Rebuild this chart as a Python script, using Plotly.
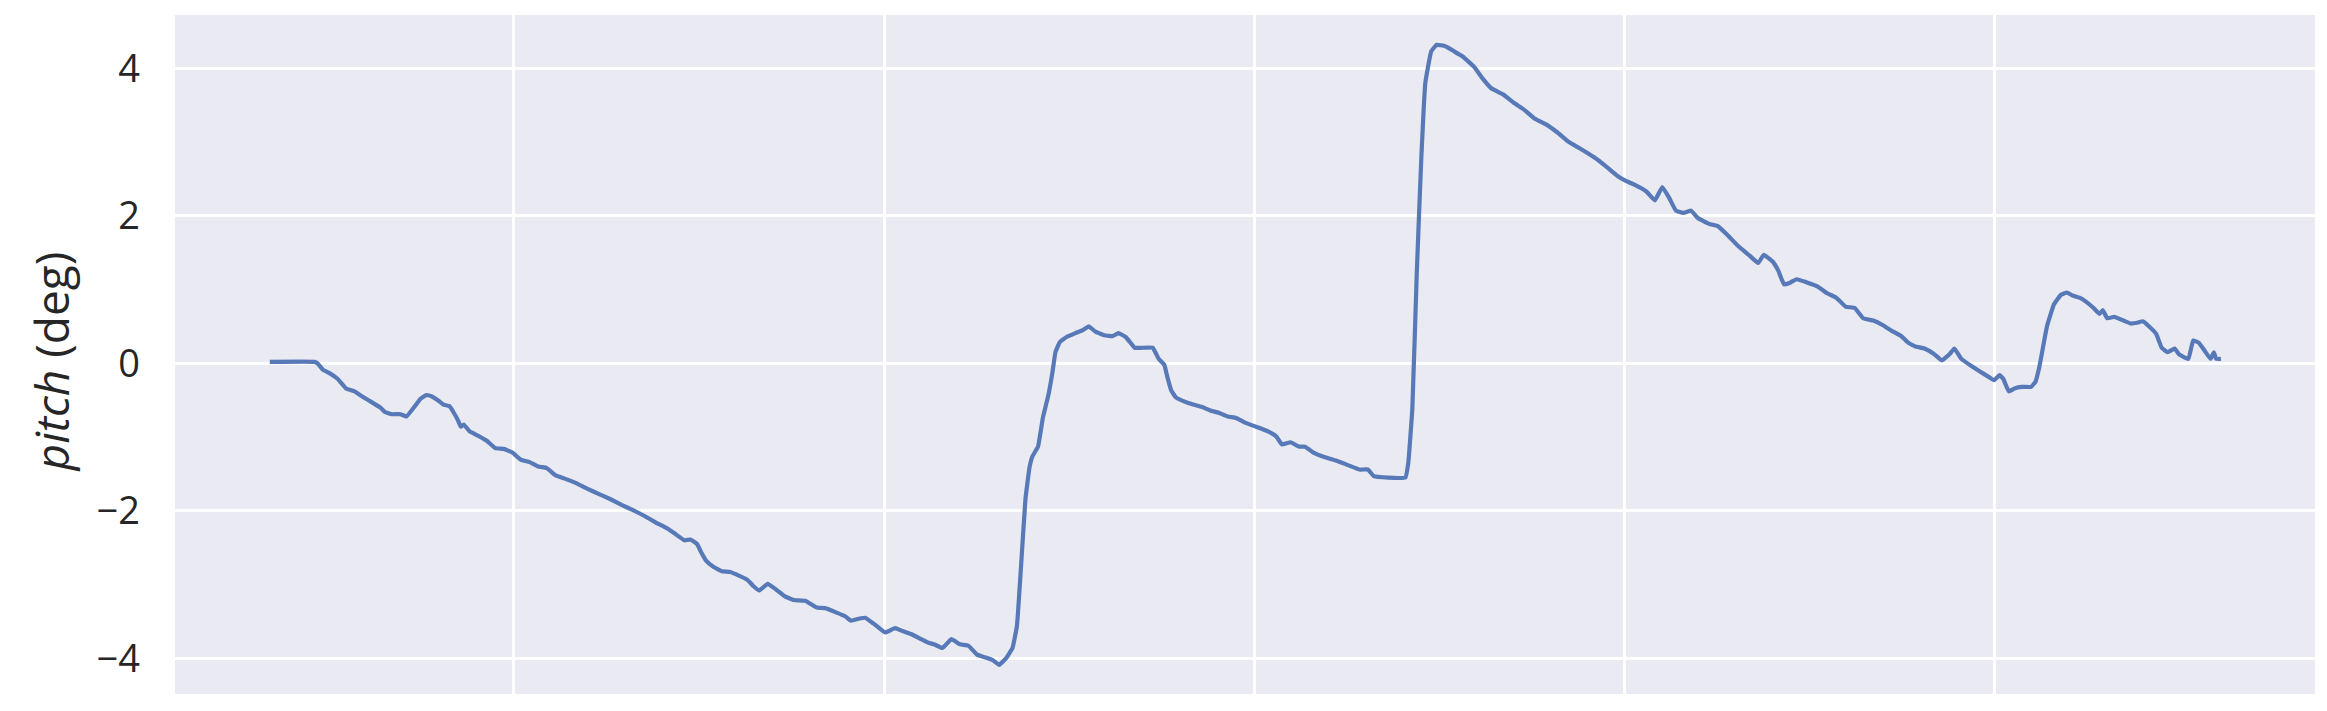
import plotly.graph_objects as go

# time axis (arbitrary units, gridlines at 100..500) and pitch in degrees
t = [34.1, 46.2, 47.0, 48.5, 50.1, 52.4, 54.7, 57.0, 59.4, 61.7, 64.0, 65.2, 67.1, 69.4, 71.0,
     73.3, 74.8, 76.4, 77.9, 79.5, 81.0, 82.6, 83.8, 84.9, 85.7, 86.5, 88.0, 90.3, 92.7, 95.0,
     97.3, 99.6, 102.0, 104.3, 106.6, 108.9, 111.3, 113.6, 116.7, 119.8, 122.9, 126.0, 129.1,
     132.2, 135.3, 138.4, 141.5, 143.8, 146.1, 147.7, 149.5, 150.8, 152.0, 153.9, 156.2, 158.5,
     160.8, 163.2, 164.7, 166.3, 168.6, 170.9, 173.2, 175.6, 178.7, 181.8, 184.1, 187.2, 189.5,
     191.1, 193.4, 194.9, 197.2, 200.3, 203.0, 205.0, 207.3, 209.6, 212.0, 213.5, 215.8, 218.2,
     220.5, 222.8, 225.1, 227.5, 229.5,
     231.1, 233.1, 234.7, 235.9, 237.0, 238.2, 239.3, 240.1, 241.6, 242.9, 244.4, 245.5, 246.3,
     247.5, 249.4, 251.7, 253.7, 255.3, 257.1, 259.5, 261.8, 263.3, 265.2, 266.4, 267.7, 269.5,
     272.6, 274.2, 275.7, 276.5, 277.6, 278.8, 281.2, 283.5, 285.8, 288.1, 290.4, 292.8, 295.1,
     297.4, 300.5, 303.6, 305.9, 307.5, 309.8, 312.1, 313.7, 316.0, 318.3, 322.2, 325.3, 328.4,
     330.7, 332.3, 336.2, 340.8, 341.6, 342.7, 343.9, 345.1, 346.2, 347.8, 349.3, 351.6, 354.0,
     356.3, 359.4, 361.7, 364.0, 367.1, 370.2, 372.6, 375.7, 378.8, 381.9, 385.0, 388.1, 391.9,
     395.0, 398.1, 400.5, 402.8, 405.9, 408.2, 410.2, 412.1, 413.9, 415.9, 418.0, 419.8, 422.9,
     425.2, 427.6, 430.7, 433.8, 436.1, 437.6, 440.0, 441.5, 443.1, 444.6, 446.5,
     449.1, 452.2, 454.7, 457.2, 459.7, 462.2, 464.5, 467.2, 469.7, 472.2, 474.7, 476.6, 478.5,
     481.0, 483.5, 485.7, 487.9, 489.1, 491.0, 493.5, 496.0, 497.9, 499.8, 501.3, 502.3, 503.8,
     505.4, 507.3, 509.8, 511.0, 512.0, 512.9, 514.1, 516.0, 517.9, 519.5, 521.0, 522.9, 524.8,
     526.7, 528.3, 529.2, 530.4, 532.3, 534.8, 536.7, 538.5, 540.0, 541.7, 543.6, 545.1, 546.7,
     548.6, 549.8, 552.3, 553.6, 555.1, 556.7, 558.3, 559.2, 559.8, 561.1]

pitch = [0.02, 0.02, 0.00, -0.09, -0.13, -0.21, -0.34, -0.38, -0.46, -0.53, -0.60, -0.66, -0.69,
         -0.69, -0.72, -0.58, -0.48, -0.43, -0.45, -0.50, -0.56, -0.58, -0.67, -0.77, -0.86, -0.83,
         -0.92, -0.98, -1.05, -1.15, -1.16, -1.21, -1.31, -1.34, -1.40, -1.42, -1.52, -1.56, -1.62,
         -1.70, -1.77, -1.84, -1.92, -1.99, -2.07, -2.16, -2.24, -2.32, -2.40, -2.39, -2.45, -2.58,
         -2.68, -2.76, -2.82, -2.83, -2.88, -2.94, -3.02, -3.08, -2.99, -3.07, -3.16, -3.21, -3.22,
         -3.31, -3.32, -3.38, -3.43, -3.49, -3.46, -3.45, -3.53, -3.65, -3.59, -3.63, -3.67, -3.73,
         -3.79, -3.81, -3.86, -3.74, -3.81, -3.83, -3.95, -3.99, -4.03,
         -4.09, -3.99, -3.86, -3.56, -2.76, -1.84, -1.41, -1.26, -1.13, -0.74, -0.43, -0.12, 0.15,
         0.29, 0.36, 0.41, 0.45, 0.50, 0.43, 0.38, 0.37, 0.41, 0.36, 0.29, 0.21, 0.21, 0.21, 0.06,
         -0.02, -0.18, -0.37, -0.46, -0.52, -0.56, -0.59, -0.64, -0.67, -0.72, -0.74, -0.80, -0.86,
         -0.92, -0.99, -1.10, -1.07, -1.13, -1.13, -1.21, -1.26, -1.32, -1.38, -1.44, -1.44, -1.53,
         -1.55, -1.55, -1.35, -0.61, 1.23, 2.76, 3.80, 4.23, 4.32, 4.30, 4.23, 4.16, 4.02, 3.86,
         3.73, 3.65, 3.53, 3.45, 3.32, 3.24, 3.13, 3.00, 2.91, 2.79, 2.67, 2.54, 2.47, 2.42, 2.33,
         2.21, 2.39, 2.24, 2.07, 2.04, 2.07, 1.97, 1.89, 1.86, 1.75, 1.59, 1.46, 1.36, 1.47, 1.38,
         1.26, 1.07, 1.09, 1.14,
         1.10, 1.04, 0.95, 0.89, 0.77, 0.75, 0.61, 0.58, 0.52, 0.44, 0.37, 0.28, 0.23, 0.20, 0.13,
         0.04, 0.13, 0.20, 0.06, -0.03, -0.11, -0.17, -0.23, -0.16, -0.21, -0.38, -0.34, -0.32,
         -0.32, -0.25, -0.06, 0.18, 0.50, 0.80, 0.93, 0.96, 0.92, 0.89, 0.83, 0.75, 0.67, 0.72,
         0.61, 0.63, 0.58, 0.54, 0.55, 0.57, 0.50, 0.40, 0.21, 0.15, 0.20, 0.12, 0.06, 0.31, 0.28,
         0.17, 0.06, 0.15, 0.06, 0.06]

x_grid = [100, 200, 300, 400, 500]
y_ticks = [-4, -2, 0, 2, 4]
y_labels = ["\u22124", "\u22122", "0", "2", "4"]

FONT = "Open Sans"
TXT = "#262626"

fig = go.Figure()
fig.add_trace(go.Scatter(x=t, y=pitch, mode="lines",
                         line=dict(color="#5779B8", width=4.2, shape="spline", smoothing=0.3),
                         showlegend=False, hoverinfo="skip"))

fig.update_layout(
    width=2327, height=711,
    margin=dict(l=167, r=20, t=7, b=25),
    paper_bgcolor="white", plot_bgcolor="#EAEAF2",
    font=dict(family=FONT, size=38, color=TXT),
    showlegend=False,
)
fig.update_xaxes(range=[8.5, 586.5], tickvals=x_grid, showticklabels=False,
                 showgrid=True, gridcolor="white", gridwidth=3,
                 zeroline=False, showline=False, ticks="")
fig.update_yaxes(range=[-4.484, 4.723], tickvals=y_ticks, ticktext=y_labels,
                 showgrid=True, gridcolor="white", gridwidth=3,
                 zeroline=False, showline=False, ticks="",
                 ticklabelstandoff=34,
                 tickfont=dict(family=FONT, size=38, color=TXT))
fig.add_annotation(text="<i>pitch</i> (deg)", xref="paper", yref="paper",
                   x=-0.0579, y=0.49, xanchor="center", yanchor="middle",
                   textangle=-90, showarrow=False,
                   font=dict(family=FONT, size=46, color=TXT))

fig.write_html("out.html")
